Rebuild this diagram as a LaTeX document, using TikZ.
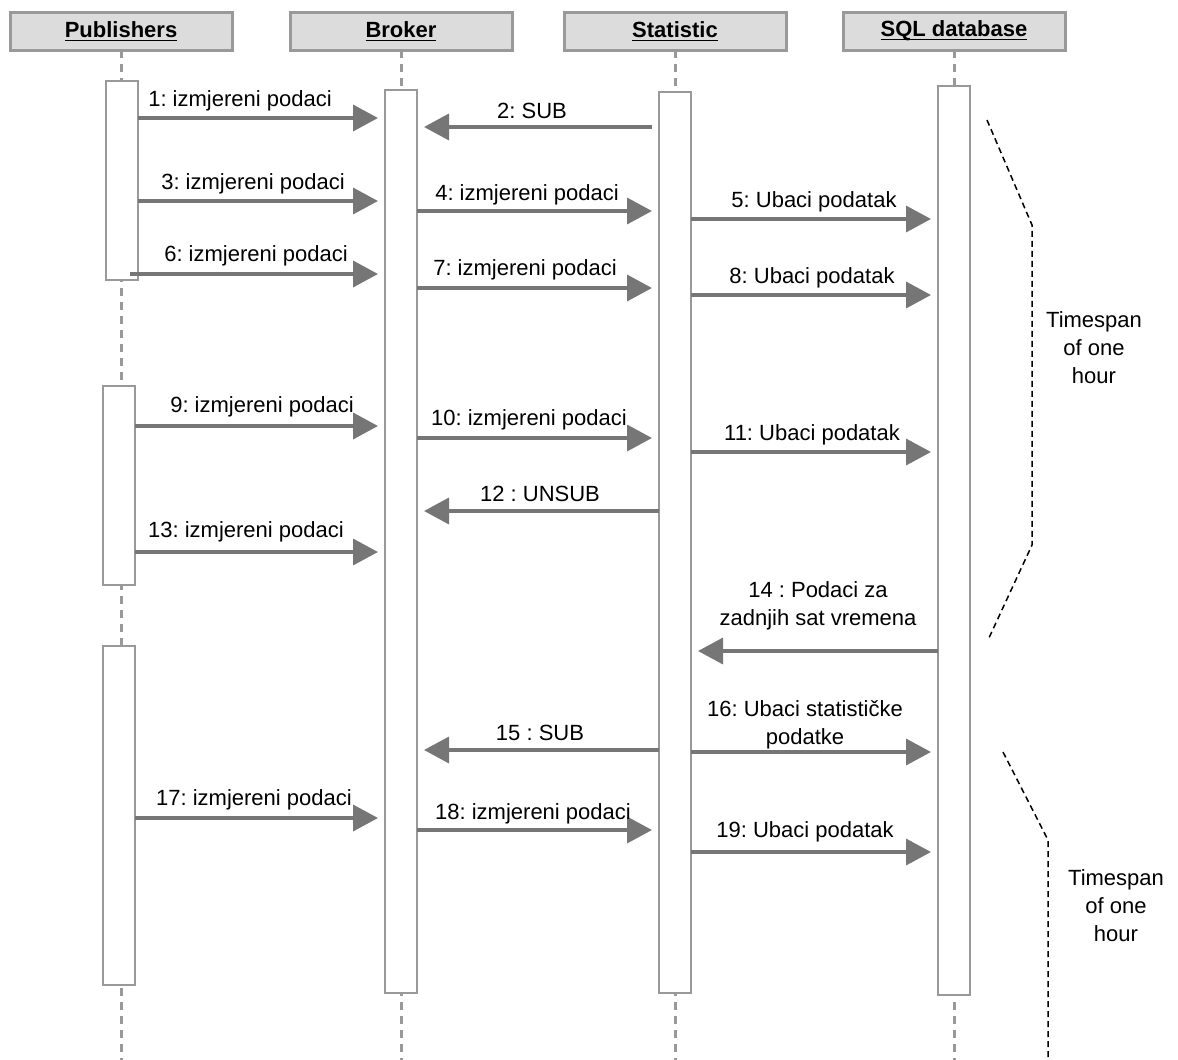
\documentclass[tikz,border=0pt]{standalone}
\usepackage{fontspec}
\setmainfont{Liberation Sans}
\usetikzlibrary{arrows.meta}
\definecolor{linegray}{HTML}{999999}
\definecolor{headfill}{HTML}{DCDCDC}
\definecolor{arrowgray}{HTML}{767676}
\newcommand{\lname}[1]{{\setbox0\hbox{#1}\rlap{\rule[-1.8pt]{\wd0}{0.6pt}}\box0}}
\newcommand{\bottomy}{1060}
\frenchspacing

\begin{document}
\begin{tikzpicture}[
    x=0.5pt, y=-0.5pt,
    headbox/.style={
        draw=linegray,
        fill=headfill,
        line width=1.5pt,
        minimum width=111pt,
        minimum height=19pt,
        inner sep=0pt,
        outer sep=0pt,
        font=\fontsize{11}{13}\selectfont\bfseries
    },
    act/.style={
        draw=linegray,
        fill=white,
        line width=1.25pt,
        minimum width=16pt,
        inner sep=0pt,
        outer sep=0pt
    },
    lifeline/.style={draw=linegray, line width=1.5pt, dash pattern=on 4pt off 3pt},
    msg/.style={draw=arrowgray, line width=1.8pt, -{Triangle[length=12.5pt,width=13pt]}, shorten >=3.5pt},
    lbl/.style={font=\fontsize{11}{14}\selectfont, align=center, inner sep=0pt},
    spanline/.style={draw=black, line width=0.75pt, dash pattern=on 3pt off 2pt}
]
    \useasboundingbox (0,0) rectangle (1178,1060);

    % --- header boxes ---
    \node[headbox] (pub)  at (121,31) {\lname{Publishers}};
    \node[headbox] (bro)  at (401,31) {\lname{Broker}};
    \node[headbox] (stat) at (675,31) {\lname{Statistic}};
    \node[headbox] (sql)  at (954,31) {\lname{SQL database}};

    % --- lifelines ---
    \draw[lifeline] (pub.south)  -- (pub.south |- 0,\bottomy);
    \draw[lifeline] (bro.south)  -- (bro.south |- 0,\bottomy);
    \draw[lifeline] (stat.south) -- (stat.south |- 0,\bottomy);
    \draw[lifeline] (sql.south)  -- (sql.south |- 0,\bottomy);

    % --- activation boxes ---
    \node[act, minimum height=99.5pt]  (pubA)  at (122,180.5) {};
    \node[act, minimum height=99.5pt]  (pubB)  at (119,485.5) {};
    \node[act, minimum height=169.5pt] (pubC)  at (119,815.5) {};
    \node[act, minimum height=451.5pt] (broA)  at (401,541.5) {};
    \node[act, minimum height=450.5pt] (statA) at (675,542.5) {};
    \node[act, minimum height=454.5pt] (sqlA)  at (954,540.5) {};

    % --- messages ---
    \draw[msg] (pubA.east |- 0,118) -- (broA.west |- 0,118);
    \node[lbl] (m1) at (240,101) {1: izmjereni podaci};

    \draw[msg, shorten <=3.5pt] (statA.west |- 0,127) -- (broA.east |- 0,127);
    \node[lbl] (m2) at (532,111) {2: SUB};

    \draw[msg] (pubA.east |- 0,201) -- (broA.west |- 0,201);
    \node[lbl] (m3) at (253,184) {3: izmjereni podaci};

    \draw[msg] (broA.east |- 0,211) -- (statA.west |- 0,211);
    \node[lbl] (m4) at (527,195) {4: izmjereni podaci};

    \draw[msg] (statA.east |- 0,219) -- (sqlA.west |- 0,219);
    \node[lbl] (m5) at (814,202) {5: Ubaci podatak};

    \draw[msg, shorten <=-4pt] (pubA.east |- 0,274) -- (broA.west |- 0,274);
    \node[lbl] (m6) at (256,256) {6: izmjereni podaci};

    \draw[msg] (broA.east |- 0,288) -- (statA.west |- 0,288);
    \node[lbl] (m7) at (525,270) {7: izmjereni podaci};

    \draw[msg] (statA.east |- 0,295) -- (sqlA.west |- 0,295);
    \node[lbl] (m8) at (812,278) {8: Ubaci podatak};

    \draw[msg] (pubB.east |- 0,426) -- (broA.west |- 0,426);
    \node[lbl] (m9) at (262,407) {9: izmjereni podaci};

    \draw[msg] (broA.east |- 0,438) -- (statA.west |- 0,438);
    \node[lbl] (m10) at (529,420) {10: izmjereni podaci};

    \draw[msg] (statA.east |- 0,452) -- (sqlA.west |- 0,452);
    \node[lbl] (m11) at (812,435) {11: Ubaci podatak};

    \draw[msg] (statA.west |- 0,511) -- (broA.east |- 0,511);
    \node[lbl] (m12) at (540,494) {12 : UNSUB};

    \draw[msg] (pubB.east |- 0,552) -- (broA.west |- 0,552);
    \node[lbl] (m13) at (246,532) {13: izmjereni podaci};

    \draw[msg] (sqlA.west |- 0,651) -- (statA.east |- 0,651);
    \node[lbl] (m14) at (818,606) {14 : Podaci za\\zadnjih sat vremena};

    \draw[msg] (statA.west |- 0,750) -- (broA.east |- 0,750);
    \node[lbl] (m15) at (540,733) {15 : SUB};

    \draw[msg] (statA.east |- 0,752) -- (sqlA.west |- 0,752);
    \node[lbl] (m16) at (805,725) {16: Ubaci statističke\\podatke};

    \draw[msg] (pubC.east |- 0,818) -- (broA.west |- 0,818);
    \node[lbl] (m17) at (254,800) {17: izmjereni podaci};

    \draw[msg] (broA.east |- 0,830) -- (statA.west |- 0,830);
    \node[lbl] (m18) at (533,814) {18: izmjereni podaci};

    \draw[msg] (statA.east |- 0,852) -- (sqlA.west |- 0,852);
    \node[lbl] (m19) at (805,832) {19: Ubaci podatak};

    % --- timespan brackets ---
    \draw[spanline] (987,120) -- (1032,225) -- (1032,545) -- (988,640);
    \node[lbl] (hour1) at (1094,348) {Timespan\\of one\\hour};

    \draw[spanline] (1003,752) -- (1048,840) -- (1048,\bottomy);
    \node[lbl] (hour2) at (1116,906) {Timespan\\of one\\hour};

\end{tikzpicture}
\end{document}
